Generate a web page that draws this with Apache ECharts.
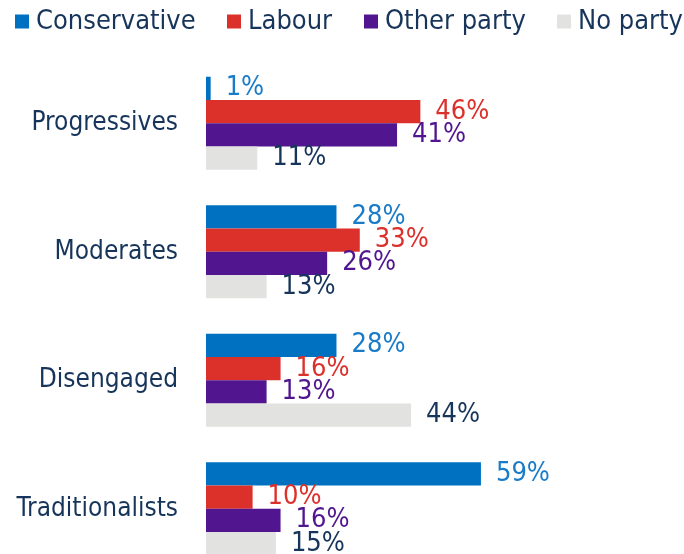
<!DOCTYPE html>
<html><head><meta charset="utf-8">
<script src="https://cdn.jsdelivr.net/npm/echarts@6/dist/echarts.min.js"></script>
<style>html,body{margin:0;padding:0;background:#fff}#c{width:684px;height:554px}</style>
</head><body><div id="c"></div>
<script>
const categories = ['Progressives', 'Moderates', 'Disengaged', 'Traditionalists'];
const seriesNames = ['Conservative', 'Labour', 'Other party', 'No party'];
const conservative = [1, 28, 28, 59];
const labour = [46, 33, 16, 10];
const otherParty = [41, 26, 13, 16];
const noParty = [11, 13, 44, 15];

const FONT = "'Liberation Sans Narrow', 'DejaVu Sans Condensed', 'Arial Narrow', sans-serif";
const NAVY = '#17355a';
const barColors = ['#0070c0', '#dc302b', '#51168f', '#e2e2e0'];
const labelColors = ['#1a7cc9', '#dc302b', '#51168f', NAVY];
const values = [conservative, labour, otherParty, noParty];
const legendLefts = [15, 227, 364, 557];

const chart = echarts.init(document.getElementById('c'), null, {renderer: 'canvas'});
chart.setOption({
  animation: false,
  backgroundColor: '#ffffff',
  legend: seriesNames.map((n, i) => ({
    left: legendLefts[i], top: 8,
    itemWidth: 14, itemHeight: 14, itemGap: 0,
    icon: 'rect', padding: 0,
    textStyle: {fontFamily: FONT, fontSize: 27, color: NAVY, padding: [0, 0, 0, 2]},
    data: [n]
  })),
  grid: {left: 206, right: 12, top: 59, height: 514, containLabel: false, outerBoundsMode: 'none'},
  xAxis: {type: 'value', min: 0, max: 100, show: false},
  yAxis: {
    type: 'category', inverse: true, data: categories,
    axisLine: {show: false}, axisTick: {show: false},
    axisLabel: {fontFamily: FONT, fontSize: 26, color: NAVY, margin: 28}
  },
  series: seriesNames.map((n, i) => ({
    name: n, type: 'bar', data: values[i],
    barGap: '0%', barCategoryGap: '27.6%',
    itemStyle: {color: barColors[i]},
    label: {show: true, position: 'right', distance: 15, formatter: '{c}%',
      fontFamily: FONT, fontSize: 27, color: labelColors[i]}
  }))
});
</script></body></html>
